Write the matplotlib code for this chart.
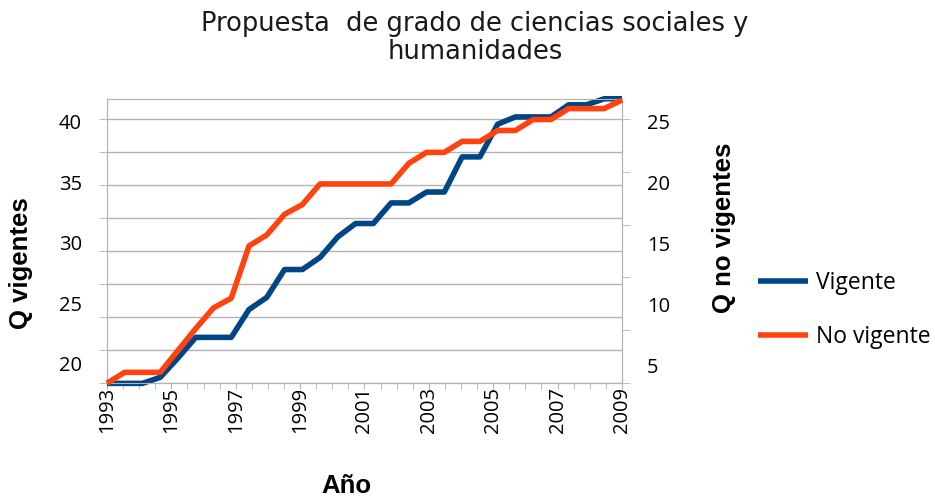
import numpy as np
import matplotlib.pyplot as plt

# valores (escala de las etiquetas de cada eje)
vigente = [18.4, 18.4, 18.4, 18.9, 20.5, 22.2, 22.2, 22.2, 24.5, 25.5,
           27.8, 27.8, 28.8, 30.5, 31.6, 31.6, 33.3, 33.3, 34.2, 34.2,
           37.1, 37.1, 39.8, 40.4, 40.4, 40.4, 41.4, 41.4, 41.9, 41.9]
no_vigente = [3.5, 4.4, 4.4, 4.4, 6.2, 8.0, 9.7, 10.5, 14.8, 15.7,
              17.4, 18.2, 19.9, 19.9, 19.9, 19.9, 19.9, 21.6, 22.5, 22.5,
              23.4, 23.4, 24.3, 24.3, 25.2, 25.2, 26.1, 26.1, 26.1, 26.8]
periodos = np.linspace(1993, 2009, len(vigente))

anios = [1993, 1995, 1997, 1999, 2001, 2003, 2005, 2007, 2009]
ticks_izq = [20, 25, 30, 35, 40]
ticks_der = [5, 10, 15, 20, 25]

azul = '#004586'
naranja = '#ff420e'
gris = '#b3b3b3'

plt.rcParams['font.family'] = ['Open Sans', 'DejaVu Sans']

fig = plt.figure(figsize=(9.35, 4.98), dpi=100)
ax = fig.add_axes([0.1144, 0.2309, 0.5508, 0.5703])
ax2 = ax.twinx()

l1, = ax.plot(periodos, vigente, color=azul, lw=4, clip_on=False,
              solid_capstyle='butt', zorder=3)
l2, = ax2.plot(periodos, no_vigente, color=naranja, lw=4, clip_on=False,
               solid_capstyle='butt', zorder=3)

ax.set_xlim(1993, 2009)
ax.set_ylim(18.43, 41.88)
ax2.set_ylim(3.52, 26.89)

# eje x
ax.set_xticks(anios)
ax.set_xticks(np.arange(1993, 2009.01, 0.5), minor=True)
ax.tick_params(axis='x', which='both', direction='out', length=4, color=gris,
               labelsize=14.5, pad=-1, labelrotation=90)

# eje izquierdo: etiquetas y lineas de cuadricula separadas
ax.set_yticks(ticks_izq)
ax.tick_params(axis='y', which='major', length=0, pad=18, labelsize=14.5)
lo, hi = ax.get_ylim()
ax.set_yticks(lo + np.arange(9) * 33 / 284 * (hi - lo), minor=True)
ax.tick_params(axis='y', which='minor', direction='out', length=6, color=gris)
ax.grid(axis='y', which='minor', color=gris, lw=1)
ax.set_axisbelow(True)

# eje derecho
ax2.set_yticks(ticks_der)
ax2.tick_params(axis='y', which='major', length=0, pad=18, labelsize=14.5)
lo2, hi2 = ax2.get_ylim()
ax2.set_yticks(lo2 + np.arange(6) * 0.186 * (hi2 - lo2), minor=True)
ax2.tick_params(axis='y', which='minor', direction='out', length=6, color=gris)

for a in (ax, ax2):
    for s in a.spines.values():
        s.set_color(gris)

fuente_eje = dict(fontsize=18.5, fontweight='bold', family='Liberation Sans')
ax.set_ylabel('Q vigentes', **fuente_eje)
ax.yaxis.set_label_coords(-0.144, 0.4225)
ax2.set_ylabel('Q no vigentes', **fuente_eje)
ax2.yaxis.set_label_coords(1.175, 0.546)
ax.set_xlabel('Año', **fuente_eje)
ax.xaxis.set_label_coords(0.464, -0.32)

fig.text(0.508, 0.978, 'Propuesta  de grado de ciencias sociales y\nhumanidades',
         ha='center', va='top', fontsize=18.5, family='DejaVu Sans',
         linespacing=1.1, color='#1a1a1a')

fig.legend([l1, l2], ['Vigente', 'No vigente'], loc='upper left',
           bbox_to_anchor=(0.8107, 0.456), frameon=False, fontsize=16.5,
           handlelength=2.2, handletextpad=0.35, labelspacing=1.3,
           borderpad=0, borderaxespad=0)

fig.savefig('out.png', dpi=100)
